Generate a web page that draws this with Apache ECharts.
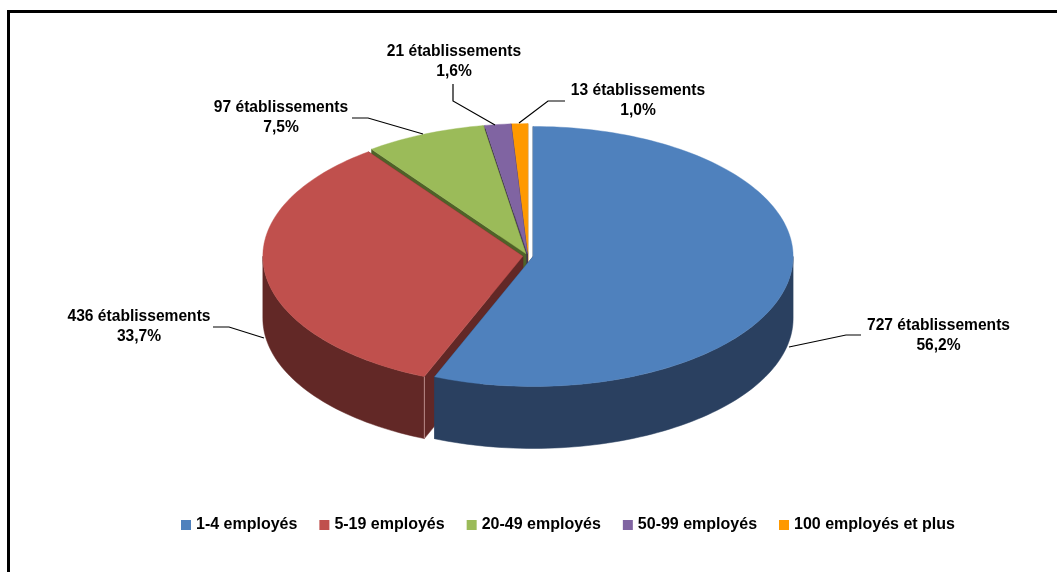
<!DOCTYPE html>
<html><head><meta charset="utf-8">
<style>html,body{margin:0;padding:0;background:#fff}#c{width:1057px;height:572px}</style>
<script src="https://cdn.jsdelivr.net/npm/echarts@6/dist/echarts.min.js"></script>
</head><body><div id="c"></div>
<script>
// Data
const categories = ['1-4 employés','5-19 employés','20-49 employés','50-99 employés','100 employés et plus'];
const establishments = [727,436,97,21,13];
const percentLabels = ['56,2%','33,7%','7,5%','1,6%','1,0%'];
const unitLabel = 'établissements';

// Style
const topColors = ['#4f81bd','#c0504d','#9bbb59','#8064a2','#ff9900'];
const sideColors = ['#2a4060','#622826','#4f6228','#403152','#a86500'];

// Layout of the tilted disc
const CX=528, CY=256, RX=260, RY=130, DEPTH=62, EXPLODE_X=5.2, EXPLODE_Y=2.4;
// Label centre and elbow/end of the leader line for each slice
const labelCentres = [[938.5,335.5],[139,326.5],[281,117.5],[454,61.5],[638,100.5]];
const leaderLines = [
  [[789,347],[846,335],[861,335]],
  [[264,338],[229,327],[213,327]],
  [[423,134],[368,118],[352,118]],
  [[495,125],[453,101],[453,84]],
  [[519,123],[548,101],[565,101]]
];
const FONT='bold 15.6px "Liberation Sans", Arial, sans-serif';

const total = establishments.reduce((a,b)=>a+b,0);
const spans = (function(){let s=0;return establishments.map(v=>{const a=s;s+=v/total*360;return [a,s];});})();
const rad = d=>d*Math.PI/180;
function arc(c,a,b,dy){
  const pts=[];const n=Math.max(2,Math.ceil((b-a)/1.5));
  for(let i=0;i<=n;i++){const t=rad(a+(b-a)*i/n);pts.push([c[0]+RX*Math.sin(t),c[1]-RY*Math.cos(t)+dy]);}
  return pts;
}
function sliceItem(i){
  return function(){
    const [a,b]=spans[i];const m=rad((a+b)/2);
    const c=[CX+EXPLODE_X*Math.sin(m),CY-EXPLODE_Y*Math.cos(m)];
    const side=sideColors[i],top=topColors[i];
    const ch=[];
    [a,b].forEach(ang=>{
      const p=arc(c,ang,ang,0)[0];
      ch.push({type:'polygon',shape:{points:[c,p,[p[0],p[1]+DEPTH],[c[0],c[1]+DEPTH]]},style:{fill:side,stroke:side,lineWidth:.5}});
    });
    const wa=Math.max(a,90),wb=Math.min(b,270);
    if(wb>wa){
      const up=arc(c,wa,wb,0),dn=arc(c,wa,wb,DEPTH).reverse();
      ch.push({type:'polygon',shape:{points:up.concat(dn)},style:{fill:side,stroke:side,lineWidth:.5}});
    }
    ch.push({type:'polygon',shape:{points:[c].concat(arc(c,a,b,0))},style:{fill:top,stroke:top,lineWidth:.4}});
    if(i===1){
      const p=arc(c,a,a,0)[0];
      ch.push({type:'line',shape:{x1:p[0],y1:p[1],x2:p[0],y2:p[1]+DEPTH},style:{stroke:'#b98a88',lineWidth:1}});
    }
    ch.push({type:'polyline',shape:{points:leaderLines[i]},style:{stroke:'#000',lineWidth:1.2,fill:null}});
    const lc=labelCentres[i];
    ch.push({type:'text',x:lc[0],y:lc[1],style:{text:establishments[i]+' '+unitLabel+'\n'+percentLabels[i],font:FONT,fill:'#000',align:'center',verticalAlign:'middle',lineHeight:20.5}});
    return {type:'group',children:ch};
  };
}
// Paint from the back slices to the front ones
const paintOrder=[4,3,2,1,0];
const option={
  animation:false,
  backgroundColor:'#fff',
  legend:{
    left:181,top:517,padding:0,itemWidth:10,itemHeight:10,itemGap:22,icon:'rect',
    data:categories,
    textStyle:{color:'#000',fontFamily:'"Liberation Sans", Arial, sans-serif',fontWeight:'bold',fontSize:16},
    selectedMode:false
  },
  graphic:[
    {type:'rect',shape:{x:7,y:10,width:1050,height:3},style:{fill:'#000'}},
    {type:'rect',shape:{x:7,y:10,width:3,height:562},style:{fill:'#000'}}
  ],
  series:paintOrder.map(i=>({
    type:'custom',name:categories[i],coordinateSystem:'none',
    itemStyle:{color:topColors[i]},silent:true,
    data:[{name:categories[i],value:[establishments[i]]}],
    renderItem:sliceItem(i)
  }))
};
echarts.init(document.getElementById('c'),null,{renderer:'canvas'}).setOption(option);
</script></body></html>
